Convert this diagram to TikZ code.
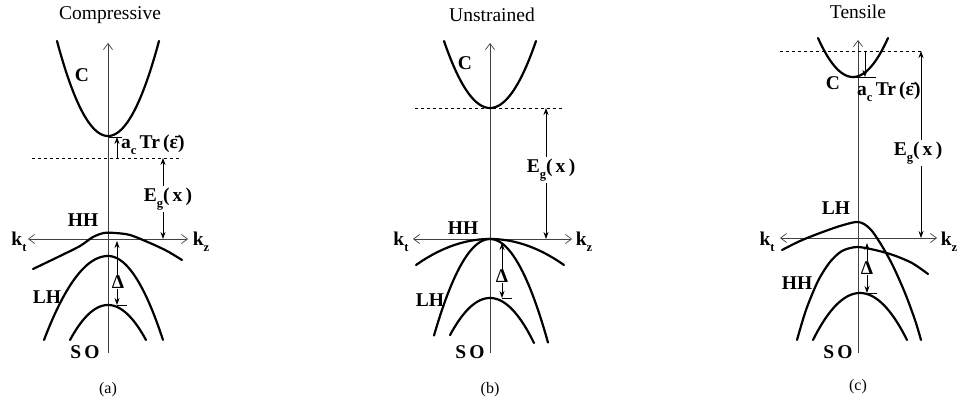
\documentclass[tikz,border=0pt]{standalone}
\usepackage{fontspec}
\setmainfont{Liberation Serif}
\usetikzlibrary{arrows.meta}
\newcommand\lsub[1]{\raisebox{-6pt}{\fontsize{12.5}{12.5}\selectfont #1}}
\begin{document}
\begin{tikzpicture}[x=1pt,y=-1pt,
  band/.style={line width=2.2pt,line cap=round,line join=round},
  axisln/.style={line width=0.7pt,draw=black!75},
  tipax/.tip={Straight Barb[length=6pt,width=9pt,line width=0.7pt]},
  dimln/.style={line width=0.8pt,{Stealth[length=7pt,width=5pt]}-{Stealth[length=7pt,width=5pt]}},
  dimup/.style={line width=0.8pt,-{Stealth[length=7pt,width=5pt]}},
  tickln/.style={line width=0.8pt},
  dashln/.style={line width=0.7pt,dash pattern=on 3pt off 3pt},
  lab/.style={font=\bfseries\fontsize{19.5}{19.5}\selectfont,inner sep=0pt},
  wlab/.style={lab,fill=white,inner sep=1.5pt},
  titl/.style={font=\fontsize{19.5}{20}\selectfont,inner sep=0pt},
  captxt/.style={font=\fontsize{16}{16}\selectfont,inner sep=0pt}]
\fill[white] (0,0) rectangle (962,406);
\useasboundingbox (0,0) rectangle (962,406);

% ================= (a) Compressive =================
\node[titl] (ta) at (110,15) {Compressive};
\coordinate (aaxb) at (108,353); \coordinate (aaxt) at (108,43);
\draw[axisln,-tipax] (aaxb) -- (aaxt);
\coordinate (akl) at (28,239); \coordinate (akr) at (188,239);
\draw[axisln,tipax-tipax] (akl) -- (akr);
% bands
\draw[band] plot[domain=-51:51,samples=60] ({108+\x},{136-95*(\x/51)^2});
\draw[band] plot[smooth] coordinates {(33,269) (58,257) (80,246) (93,237) (104,233) (115,233) (130,235) (150,243) (167,251) (182,260)};
\draw[band] plot[domain=-64:0,samples=40] ({108+\x},{256+84*(\x/64)^2}) -- plot[domain=0:55,samples=40] ({108+\x},{256+84*(\x/55)^2});
\draw[band] plot[domain=-38:38,samples=50] ({108+\x},{305+35*(\x/38)^2});
% dashed level
\coordinate (adl) at (32,158); \coordinate (adr) at (182,158);
\draw[dashln] (adl) -- (adr);
% a_c arrow
\coordinate (aacb) at (117,158); \coordinate (aact) at (117,137);
\draw[dimup] (aacb) -- (aact);
\coordinate (aat1) at (109,137); \coordinate (aat2) at (122,137);
\draw[tickln] (aat1) -- (aat2);
% Eg arrow
\coordinate (aegt) at (163,158); \coordinate (aegb) at (163,239);
\draw[dimln] (aegt) -- (aegb);
\node[wlab] (aeg) at (168,199) {E\lsub{g}(\,x\,)};
% Delta arrow
\coordinate (adt) at (117,241); \coordinate (adb) at (117,305);
\draw[dimln] (adt) -- (adb);
\coordinate (adk1) at (117,305); \coordinate (adk2) at (127,305);
\draw[tickln] (adk1) -- (adk2);
% labels
\node[lab] (aC) at (82,75) {C};
\node[lab,anchor=west] (aac) at (121,145) {a\lsub{c}\,Tr\,(\={ε})};
\node[lab] (aHH) at (83,220) {HH};
\node[lab] (akt) at (19,242) {k\lsub{t}};
\node[lab] (akz) at (201,242) {k\lsub{z}};
\node[lab] (aLH) at (47,297) {LH};
\node[lab] (aSO) at (85,352) {S\,O};
\node[wlab,inner sep=0.5pt] (aDel) at (118,282) {Δ};
\node[captxt] (capa) at (108,390) {(a)};

% ================= (b) Unstrained =================
\node[titl] (tb) at (492,15) {Unstrained};
\coordinate (baxb) at (490,353); \coordinate (baxt) at (490,43);
\draw[axisln,-tipax] (baxb) -- (baxt);
\coordinate (bkl) at (413,239); \coordinate (bkr) at (572,239);
\draw[axisln,tipax-tipax] (bkl) -- (bkr);
\draw[band] plot[domain=-46:46,samples=60] ({490+\x},{108-67*(\x/46)^2});
\draw[band] plot[domain=-74:74,samples=60] ({490+\x},{239+26*(\x/74)^2});
\draw[band] plot[domain=-56:58,samples=60] ({490+\x},{239+100*(\x/57)^2});
\draw[band] plot[domain=-40:44,samples=60] ({490+\x},{298+41*(\x/42)^2});
\coordinate (bdl) at (415,108); \coordinate (bdr) at (563,108);
\draw[dashln] (bdl) -- (bdr);
\coordinate (begt) at (546,108); \coordinate (begb) at (546,239);
\draw[dimln] (begt) -- (begb);
\node[wlab] (beg) at (551,170) {E\lsub{g}(\,x\,)};
\coordinate (bdt) at (502,243); \coordinate (bdb) at (502,298);
\draw[dimln] (bdt) -- (bdb);
\coordinate (bdk1) at (502,298); \coordinate (bdk2) at (512,298);
\draw[tickln] (bdk1) -- (bdk2);
\node[lab] (bC) at (465,63) {C};
\node[lab] (bHH) at (463,228) {HH};
\node[lab] (bkt) at (401,242) {k\lsub{t}};
\node[lab] (bkz) at (584,242) {k\lsub{z}};
\node[lab] (bLH) at (430,300) {LH};
\node[lab] (bSO) at (470,352) {S\,O};
\node[wlab,inner sep=0.5pt] (bDel) at (502,276) {Δ};
\node[captxt] (capb) at (490,390) {(b)};

% ================= (c) Tensile =================
\node[titl] (tc) at (858,12) {Tensile};
\coordinate (caxb) at (858,353); \coordinate (caxt) at (858,40);
\draw[axisln,-tipax] (caxb) -- (caxt);
\coordinate (ckl) at (780,238); \coordinate (ckr) at (937,238);
\draw[axisln,tipax-tipax] (ckl) -- (ckr);
\draw[band] plot[domain=-35:35,samples=60] ({853+\x},{77-39*(\x/35)^2});
\draw[band] plot[smooth] coordinates {(782,250) (800,241) (820,233) (840,226) (856,222) (864,224) (872,231) (882,246) (893,266) (905,293) (915,320) (921,340)};
\draw[band] plot[smooth] coordinates {(797,340) (806,310) (818,281) (830,262) (842,251) (857,247) (875,250) (893,255) (912,263) (928,274)};
\draw[band] plot[domain=-47:47,samples=60] ({860+\x},{293+47*(\x/47)^2});
\coordinate (cdl) at (780,51); \coordinate (cdr) at (922,51);
\draw[dashln] (cdl) -- (cdr);
\coordinate (cact) at (865,51); \coordinate (cacb) at (865,77);
\draw[dimup] (cact) -- (cacb);
\coordinate (cat1) at (855,77); \coordinate (cat2) at (876,77);
\draw[tickln] (cat1) -- (cat2);
\coordinate (cegt) at (921,51); \coordinate (cegb) at (921,238);
\draw[dimln] (cegt) -- (cegb);
\node[wlab] (ceg) at (918,153) {E\lsub{g}(\,x\,)};
\coordinate (cdt) at (867,243); \coordinate (cdb) at (867,293);
\draw[dimln] (cdt) -- (cdb);
\coordinate (cdk1) at (867,293); \coordinate (cdk2) at (877,293);
\draw[tickln] (cdk1) -- (cdk2);
\node[lab] (cC) at (833,83) {C};
\node[lab,anchor=west] (cac) at (857,92) {a\lsub{c}\,Tr\,(\={ε})};
\node[lab] (cLH) at (836,208) {LH};
\node[lab] (cHH) at (797,283) {HH};
\node[lab] (ckt) at (767,242) {k\lsub{t}};
\node[lab] (ckz) at (949,242) {k\lsub{z}};
\node[wlab,inner sep=0.5pt] (cDel) at (867,268) {Δ};
\node[lab] (cSO) at (838,352) {S\,O};
\node[captxt] (capc) at (858,387) {(c)};
\end{tikzpicture}
\end{document}
